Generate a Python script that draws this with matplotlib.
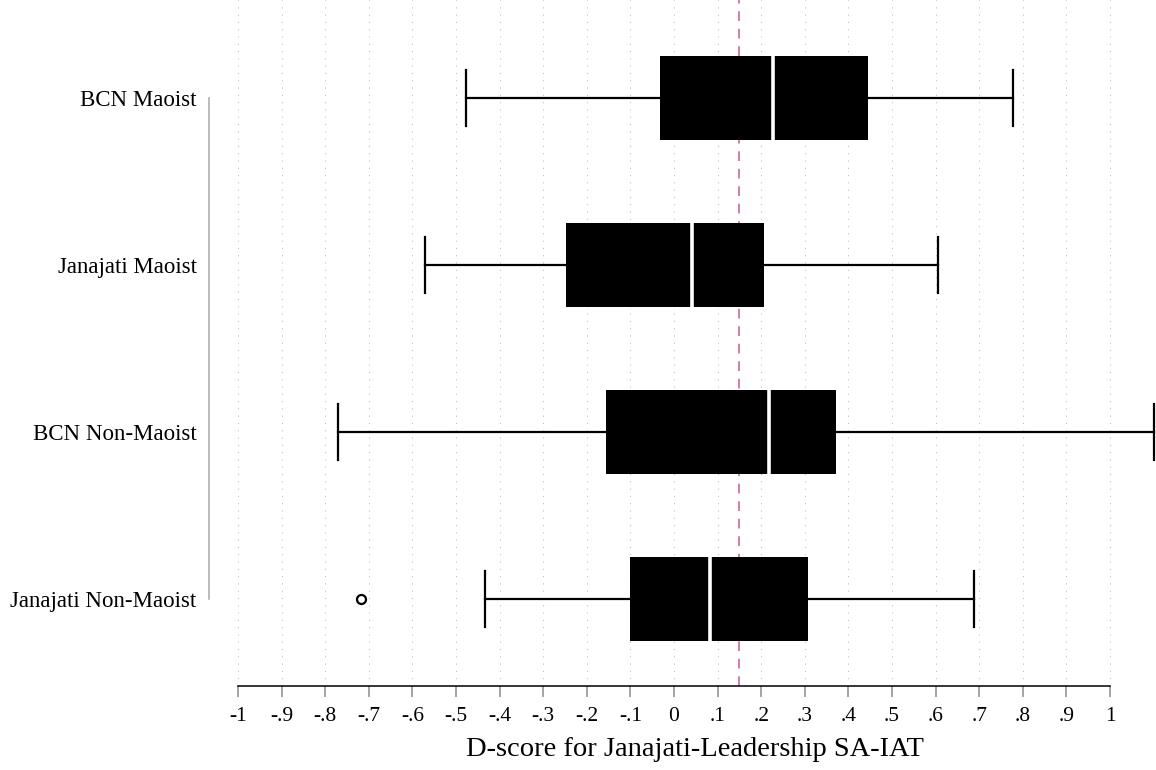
import matplotlib.pyplot as plt

# group summaries (box = quartiles, whiskers = adjacent values)
groups = ['BCN Maoist', 'Janajati Maoist', 'BCN Non-Maoist', 'Janajati Non-Maoist']
whisker_lo = [-0.477, -0.570, -0.770, -0.433]
q1 = [-0.032, -0.248, -0.156, -0.101]
medians = [0.227, 0.041, 0.218, 0.083]
q3 = [0.444, 0.206, 0.372, 0.307]
whisker_hi = [0.777, 0.605, 1.101, 0.689]
outliers = [[], [], [], [-0.719]]
ref_value = 0.15

x_ticks = [-1, -0.9, -0.8, -0.7, -0.6, -0.5, -0.4, -0.3, -0.2, -0.1, 0,
           0.1, 0.2, 0.3, 0.4, 0.5, 0.6, 0.7, 0.8, 0.9, 1]
x_tick_labels = ['-1', '-.9', '-.8', '-.7', '-.6', '-.5', '-.4', '-.3', '-.2', '-.1', '0',
                 '.1', '.2', '.3', '.4', '.5', '.6', '.7', '.8', '.9', '1']
x_title = 'D-score for Janajati-Leadership SA-IAT'

plt.rcParams['font.family'] = ['Liberation Serif', 'DejaVu Serif']

stats = []
for g, lo, a, m, b, hi, fl in zip(groups, whisker_lo, q1, medians, q3, whisker_hi, outliers):
	stats.append(dict(label=g, whislo=lo, q1=a, med=m, q3=b, whishi=hi, fliers=fl))

positions = list(range(len(groups), 0, -1))

fig = plt.figure(figsize=(11.56, 7.7), dpi=100)
ax = fig.add_axes([0.1808, 0.1091, 0.8192, 0.8909])

ax.bxp(stats, positions=positions, widths=0.5, capwidths=0.335,
	orientation='horizontal', patch_artist=True, showfliers=True,
	boxprops=dict(facecolor='black', edgecolor='black', linewidth=0),
	medianprops=dict(color='white', linewidth=2.6, solid_capstyle='butt'),
	whiskerprops=dict(color='black', linewidth=1.6),
	capprops=dict(color='black', linewidth=1.6),
	flierprops=dict(marker='o', markerfacecolor='white', markeredgecolor='black',
		markersize=6.5, markeredgewidth=1.6))

ax.axvline(ref_value, color='#cf7fab', linewidth=1.4, linestyle=(0, (5, 4)), zorder=1)

ax.set_xlim(-1.0665, 1.1055)
ax.set_ylim(0.479, 4.587)

ax.set_xticks(x_ticks)
ax.set_xticklabels(x_tick_labels, fontsize=15.5)
ax.set_yticks(positions)
ax.set_yticklabels(groups, fontsize=16.5)

ax.tick_params(axis='x', length=8, width=1.1, color='#8c8c8c', pad=7)
ax.tick_params(axis='y', length=0, pad=9)

ax.grid(axis='x', color='#bdbdbd', linewidth=0.75, linestyle=(0, (1, 6)))
ax.grid(axis='y', visible=False)
ax.set_axisbelow(True)

for s in ['top', 'right']:
	ax.spines[s].set_visible(False)
ax.spines['bottom'].set_bounds(-1, 1)
ax.spines['bottom'].set_linewidth(1.1)
ax.spines['left'].set_bounds(1, 4)
ax.spines['left'].set_color('#a8a8a8')
ax.spines['left'].set_linewidth(1.1)

ax.set_xlabel(x_title, fontsize=20.5)
ax.xaxis.set_label_coords(0.513, -0.074)

fig.savefig('out.png', dpi=100)
